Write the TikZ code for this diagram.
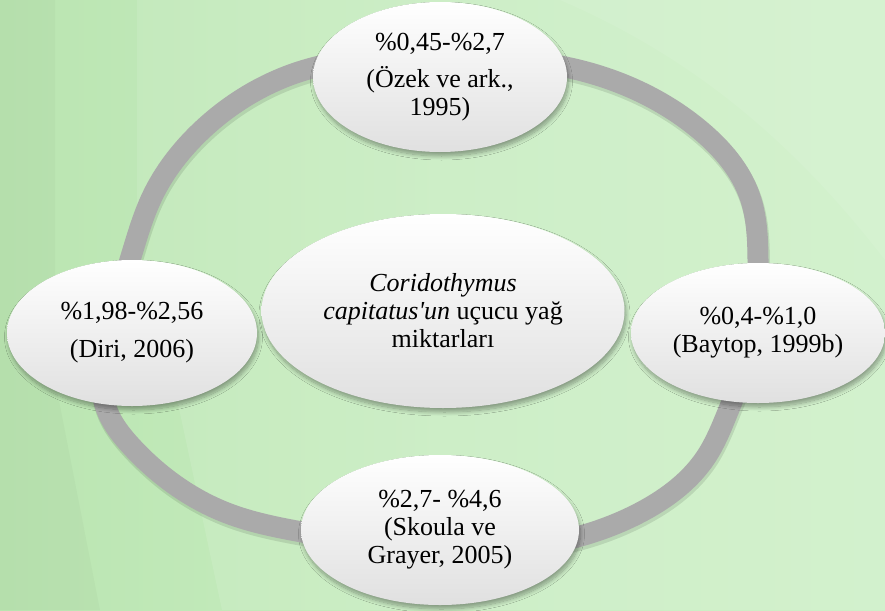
\documentclass[tikz,border=0pt]{standalone}
\usepackage{fontspec}
\setmainfont{Liberation Serif}
\usetikzlibrary{shapes.geometric,shadows.blur,hobby}
\definecolor{bgL}{RGB}{186,229,177}
\definecolor{bgM}{RGB}{200,237,193}
\definecolor{bgR}{RGB}{206,240,200}
\definecolor{ringc}{RGB}{170,170,170}
\definecolor{ellbot}{RGB}{224,224,224}
\tikzset{
  oval/.style={ellipse, inner sep=0pt, align=center, draw=none,
    top color=white, middle color=white, bottom color=ellbot,
    blur shadow={shadow xshift=1.5pt, shadow yshift=-4pt, shadow opacity=35, shadow blur steps=10, shadow blur radius=4pt},
    font=\fontsize{26}{28}\selectfont, text=black},
  ringline/.style={line width=21pt, draw=ringc},
  ringshadow/.style={line width=22pt, draw=black, opacity=0.10}
}
\newcommand{\straightapos}{{\XeTeXglyph\XeTeXcharglyph"0027\relax}}
\begin{document}
\begin{tikzpicture}[x=1pt,y=-1pt]
\useasboundingbox (0,0) rectangle (885,610);
% background
\shade[left color=bgL, right color=bgR, middle color=bgM] (0,0) rectangle (885,610);
\fill[white, opacity=0.10] (137,0) -- (885,0) -- (885,610) -- (222,610) -- (180,413) -- (137,250) -- cycle;
\fill[white, opacity=0.08] (560,0) -- (885,0) -- (885,260) .. controls (800,150) and (700,60) .. (560,0) -- cycle;
\fill[black, opacity=0.025] (0,0) -- (55,0) -- (55,380) -- (100,610) -- (0,610) -- cycle;
% ring
\draw[ringshadow, shift={(1,3)}, use Hobby shortcut, closed=true]
  (440,57) .. (570,68) .. (700,130) .. (750,197) .. (758,260) .. (752,340) .. (727,414) .. (706,457) .. (643,511) .. (577,537) .. (440,550) .. (302,532) .. (227,513) .. (132,447) .. (106,408) .. (112,320) .. (133,250) .. (152,197) .. (202,130) .. (305,70);
\draw[ringline, use Hobby shortcut, closed=true]
  (440,57) .. (570,68) .. (700,130) .. (750,197) .. (758,260) .. (752,340) .. (727,414) .. (706,457) .. (643,511) .. (577,537) .. (440,550) .. (302,532) .. (227,513) .. (132,447) .. (106,408) .. (112,320) .. (133,250) .. (152,197) .. (202,130) .. (305,70);
% nodes
\node[oval, minimum width=254pt, minimum height=150pt] (top) at (440,77)
  {\%0,45-\%2,7\\[9pt](Özek ve ark.,\\1995)};
\node[oval, minimum width=254pt, minimum height=140pt] (right) at (758,333)
  {\%0,4-\%1,0\\(Baytop, 1999b)};
\node[oval, minimum width=278pt, minimum height=150pt] (bottom) at (440,530)
  {\%2,7- \%4,6\\(Skoula ve\\Grayer, 2005)};
\node[oval, minimum width=250pt, minimum height=146pt] (left) at (132,333)
  {\%1,98-\%2,56\\[10pt](Diri, 2006)};
\node[oval, minimum width=363pt, minimum height=194pt] (center) at (443,311)
  {\textit{Coridothymus}\\\textit{capitatus\straightapos un} uçucu yağ\\miktarları};
\end{tikzpicture}
\end{document}
